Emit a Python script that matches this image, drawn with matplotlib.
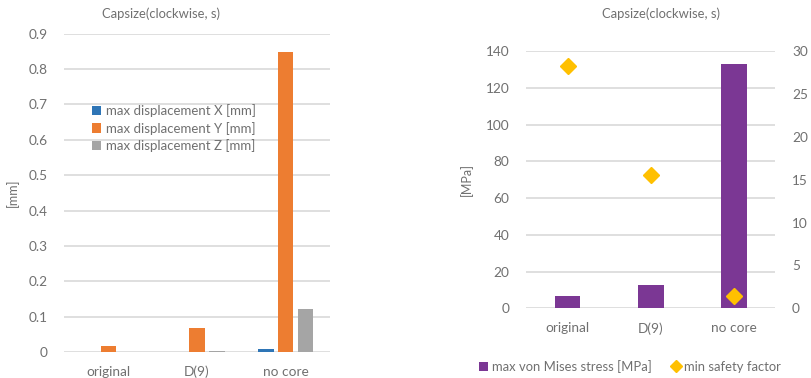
import matplotlib
matplotlib.use("Agg")
import matplotlib.pyplot as plt
import numpy as np
from matplotlib.lines import Line2D
from matplotlib.patches import Patch

# Data
categories = ["original", "D(9)", "no core"]
disp_x = [0.0, 0.0, 0.008]
disp_y = [0.018, 0.069, 0.849]
disp_z = [0.0, 0.004, 0.122]
stress = [6.9, 12.7, 132.9]
safety = [28.3, 15.5, 1.45]

title = "Capsize(clockwise, s)"

C_X = "#2E75B6"
C_Y = "#ED7D31"
C_Z = "#A5A5A5"
C_S = "#7B3794"
C_F = "#FFC000"
TXT = "#707070"
GRID = "#D9D9D9"

plt.rcParams["font.family"] = ["Lato", "DejaVu Sans"]

W, H = 812, 378
fig = plt.figure(figsize=(W / 100, H / 100), dpi=100)
TICK_FS = 9.8


def px_axes(x0, y_top, x1, y_bot):
    return fig.add_axes([x0 / W, 1 - y_bot / H, (x1 - x0) / W, (y_bot - y_top) / H])


def style(ax):
    for s in ax.spines.values():
        s.set_visible(False)
    ax.tick_params(length=0, colors=TXT, labelsize=TICK_FS)
    ax.yaxis.grid(True, color=GRID, linewidth=1.2)
    ax.set_axisbelow(True)


# Left chart: displacements
ax1 = px_axes(64, 33.7, 330, 352)
style(ax1)
x = np.arange(len(categories))
step, bw = 0.223, 0.175
ax1.bar(x - step, disp_x, bw, color=C_X, label="max displacement X [mm]")
ax1.bar(x, disp_y, bw, color=C_Y, label="max displacement Y [mm]")
ax1.bar(x + step, disp_z, bw, color=C_Z, label="max displacement Z [mm]")
ax1.set_xlim(-0.5, 2.5)
ax1.set_ylim(0, 0.9)
ax1.set_yticks(np.arange(0, 0.91, 0.1))
ax1.set_yticklabels(["0"] + [f"{v:.1f}" for v in np.arange(0.1, 0.91, 0.1)])
ax1.set_xticks(x)
ax1.set_xticklabels(categories)
ax1.tick_params(axis="y", pad=12)
ax1.tick_params(axis="x", pad=10)
ax1.set_ylabel("[mm]", color=TXT, fontsize=9, labelpad=7)
fig.text(161 / W, 1 - 14 / H, title, color=TXT, fontsize=9.4, ha="center", va="center")
leg1 = ax1.legend(loc="upper left", bbox_to_anchor=(0.08, 0.80), frameon=False,
                  fontsize=9.5, handlelength=0.7, handleheight=0.7,
                  handletextpad=0.35, labelspacing=0.36, borderpad=0)
for t in leg1.get_texts():
    t.set_color(TXT)

# Right chart: stress and safety factor
ax2 = px_axes(526, 51, 775.3, 308.3)
style(ax2)
ax2.bar(x, stress, 0.31, color=C_S)
ax2.set_xlim(-0.5, 2.5)
ax2.set_ylim(0, 140)
ax2.set_yticks(np.arange(0, 141, 20))
ax2.set_xticks(x)
ax2.set_xticklabels(categories)
ax2.tick_params(axis="y", pad=12)
ax2.tick_params(axis="x", pad=10)
ax2.set_ylabel("[MPa]", color=TXT, fontsize=9, labelpad=9)

ax3 = ax2.twinx()
for s in ax3.spines.values():
    s.set_visible(False)
ax3.plot(x, safety, linestyle="none", marker="D", markersize=8.5, color=C_F)
ax3.set_ylim(0, 30)
ax3.set_yticks(np.arange(0, 31, 5))
ax3.tick_params(length=0, colors=TXT, labelsize=TICK_FS, pad=12)

fig.text(661 / W, 1 - 14 / H, title, color=TXT, fontsize=9.4, ha="center", va="center")

handles = [Patch(facecolor=C_S, label="max von Mises stress [MPa]"),
           Line2D([], [], linestyle="none", marker="D", markersize=6, color=C_F,
                  label="min safety factor")]
leg2 = fig.legend(handles=handles, loc="center", bbox_to_anchor=(630 / W, 1 - 366.5 / H),
                  ncol=2, frameon=False, fontsize=9.4, handlelength=0.7, handleheight=0.7,
                  handletextpad=0.3, columnspacing=1.5, borderpad=0)
for t in leg2.get_texts():
    t.set_color(TXT)

fig.savefig("out.png", dpi=100)
